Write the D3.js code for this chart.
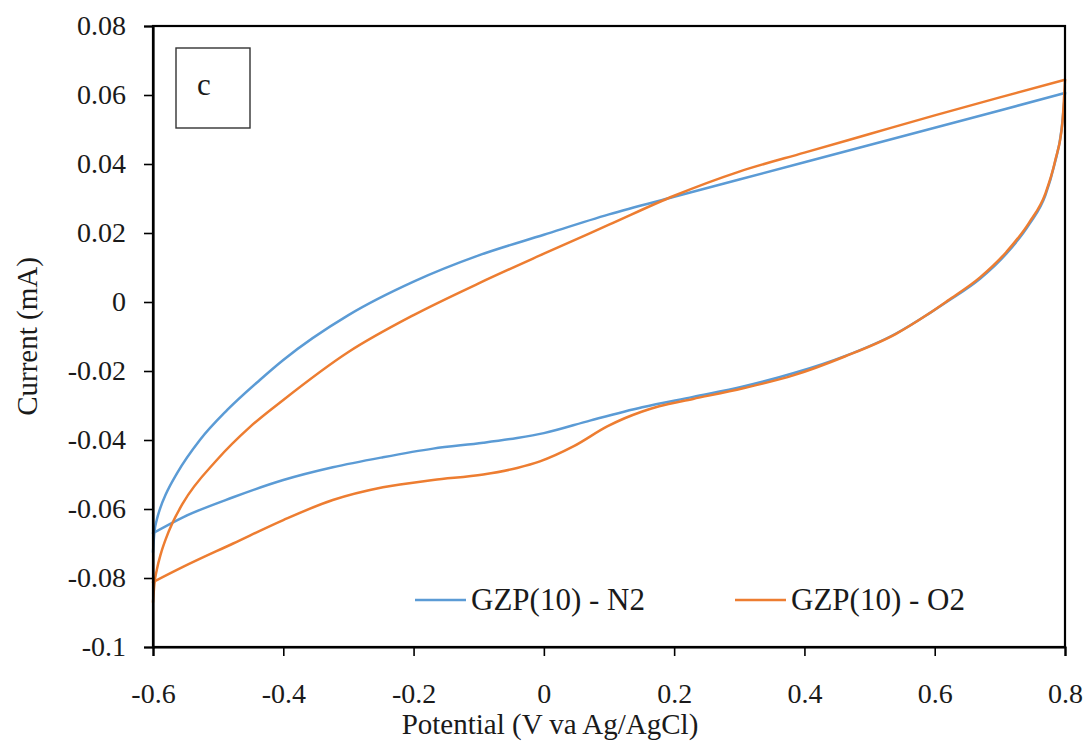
<!DOCTYPE html>
<html>
<head>
<meta charset="utf-8">
<script src="https://cdn.jsdelivr.net/npm/d3@7/dist/d3.min.js"></script>
<style>
  html, body { margin: 0; padding: 0; background: #ffffff; }
  svg text { font-family: "Liberation Serif", "Times New Roman", serif; fill: #1a1a1a; }
</style>
</head>
<body>
<svg id="chart" width="1090" height="753"></svg>
<script>
// Cyclic voltammograms of GZP(10): [potential (V), current (mA)] in sweep order
const n2Anodic = [
  [-0.600, -0.0725], [-0.598, -0.0670], [-0.594, -0.0630], [-0.589, -0.0598],
  [-0.580, -0.0556], [-0.563, -0.0496], [-0.528, -0.0400], [-0.486, -0.0313],
  [-0.436, -0.0226], [-0.400, -0.0168], [-0.300, -0.0038], [-0.200, 0.0059],
  [-0.100, 0.0135], [0.000, 0.0195], [0.100, 0.0254], [0.200, 0.0305],
  [0.300, 0.0355], [0.400, 0.0405], [0.500, 0.0455], [0.600, 0.0505],
  [0.700, 0.0555], [0.800, 0.0606]
];
const n2Cathodic = [
  [0.800, 0.0606], [0.795, 0.0505], [0.784, 0.0400], [0.770, 0.0310],
  [0.745, 0.0225], [0.710, 0.0140], [0.670, 0.0068], [0.620, 0.0002],
  [0.590, -0.0035], [0.540, -0.0092], [0.462, -0.0157], [0.384, -0.0206],
  [0.306, -0.0245], [0.229, -0.0275], [0.151, -0.0305], [0.072, -0.0343],
  [0.000, -0.0380], [-0.041, -0.0394], [-0.093, -0.0408], [-0.170, -0.0425],
  [-0.247, -0.0450], [-0.324, -0.0479], [-0.400, -0.0516], [-0.477, -0.0566],
  [-0.554, -0.0624], [-0.600, -0.0670]
];
const o2Anodic = [
  [-0.600, -0.0870], [-0.598, -0.0820], [-0.594, -0.0775], [-0.588, -0.0730],
  [-0.580, -0.0685], [-0.570, -0.0640], [-0.554, -0.0583], [-0.502, -0.0458],
  [-0.451, -0.0362], [-0.400, -0.0284], [-0.300, -0.0145], [-0.200, -0.0038],
  [-0.100, 0.0054], [0.000, 0.0140], [0.100, 0.0224], [0.200, 0.0308],
  [0.300, 0.0378], [0.400, 0.0433], [0.500, 0.0487], [0.600, 0.0541],
  [0.700, 0.0593], [0.800, 0.0644]
];
const o2Cathodic = [
  [0.800, 0.0644], [0.796, 0.0520], [0.785, 0.0410], [0.770, 0.0315],
  [0.745, 0.0230], [0.710, 0.0145], [0.670, 0.0072], [0.620, 0.0004],
  [0.590, -0.0035], [0.540, -0.0093], [0.462, -0.0158], [0.384, -0.0212],
  [0.306, -0.0250], [0.229, -0.0281], [0.177, -0.0302], [0.150, -0.0318],
  [0.124, -0.0337], [0.098, -0.0360], [0.046, -0.0418], [-0.006, -0.0462],
  [-0.041, -0.0481], [-0.093, -0.0500], [-0.170, -0.0516], [-0.247, -0.0537],
  [-0.324, -0.0574], [-0.400, -0.0632], [-0.477, -0.0700], [-0.554, -0.0768],
  [-0.600, -0.0812]
];

const seriesNames = ["GZP(10) - N2", "GZP(10) - O2"];
const seriesColors = ["#5b9bd5", "#ed7d31"];

const xTicks = [-0.6, -0.4, -0.2, 0, 0.2, 0.4, 0.6, 0.8];
const yTicks = [-0.1, -0.08, -0.06, -0.04, -0.02, 0, 0.02, 0.04, 0.06, 0.08];
const xTitle = "Potential (V va Ag/AgCl)";
const yTitle = "Current (mA)";
const panelLabel = "c";

const svg = d3.select("#chart");
const plot = { left: 153, top: 26, right: 1065, bottom: 647 };

const x = d3.scaleLinear().domain([-0.6, 0.8]).range([plot.left, plot.right]);
const y = d3.scaleLinear().domain([-0.1, 0.08]).range([plot.bottom, plot.top]);

const fmt = v => {
  const r = Math.round(v * 1000) / 1000;
  return r === 0 ? "0" : String(r);
};

// each sweep is single-valued in potential, so draw it with a monotone curve
const line = d3.line()
  .x(d => x(d[0]))
  .y(d => y(d[1]))
  .curve(d3.curveMonotoneX);

const byPotential = pts => pts.slice().sort((a, b) => a[0] - b[0]);

const sweeps = [
  { pts: n2Anodic, s: 0 }, { pts: n2Cathodic, s: 0 },
  { pts: o2Anodic, s: 1 }, { pts: o2Cathodic, s: 1 }
];
sweeps.forEach(sw => {
  svg.append("path")
    .attr("d", line(byPotential(sw.pts)))
    .attr("fill", "none")
    .attr("stroke", seriesColors[sw.s])
    .attr("stroke-width", 2.5)
    .attr("stroke-linecap", "round");
});

// frame around the plot area
svg.append("rect")
  .attr("x", plot.left).attr("y", plot.top)
  .attr("width", plot.right - plot.left).attr("height", plot.bottom - plot.top)
  .attr("fill", "none").attr("stroke", "#000").attr("stroke-width", 2.2);

// axes
const yAxis = d3.axisLeft(y).tickValues(yTicks).tickFormat(fmt).tickSize(9).tickPadding(18);
const xAxis = d3.axisBottom(x).tickValues(xTicks).tickFormat(fmt).tickSize(9).tickPadding(27);

const gy = svg.append("g").attr("transform", `translate(${plot.left},0)`).call(yAxis);
const gx = svg.append("g").attr("transform", `translate(0,${plot.bottom})`).call(xAxis);
[gx, gy].forEach(g => {
  g.select(".domain").attr("stroke", "#000").attr("stroke-width", 2.2);
  g.selectAll(".tick line").attr("stroke", "#000").attr("stroke-width", 1.6);
  g.selectAll(".tick text").attr("font-size", 28).attr("fill", "#1a1a1a")
    .style("font-family", "'Liberation Serif', serif");
});

// axis titles
svg.append("text")
  .attr("x", 550).attr("y", 734)
  .attr("text-anchor", "middle").attr("font-size", 29)
  .text(xTitle);
svg.append("text")
  .attr("transform", `translate(37,${(plot.top + plot.bottom) / 2}) rotate(-90)`)
  .attr("text-anchor", "middle").attr("font-size", 29)
  .text(yTitle);

// panel label box
svg.append("rect")
  .attr("x", 176).attr("y", 48).attr("width", 74).attr("height", 80)
  .attr("fill", "#fff").attr("stroke", "#333").attr("stroke-width", 1.4);
svg.append("text")
  .attr("x", 204).attr("y", 95).attr("text-anchor", "middle")
  .attr("font-size", 31).text(panelLabel);

// legend
const legendX = [415, 735];
seriesNames.forEach((name, i) => {
  svg.append("line")
    .attr("x1", legendX[i]).attr("x2", legendX[i] + 51)
    .attr("y1", 600).attr("y2", 600)
    .attr("stroke", seriesColors[i]).attr("stroke-width", 2.5);
  svg.append("text")
    .attr("x", legendX[i] + 56).attr("y", 610)
    .attr("font-size", 31).text(name);
});
</script>
</body>
</html>
